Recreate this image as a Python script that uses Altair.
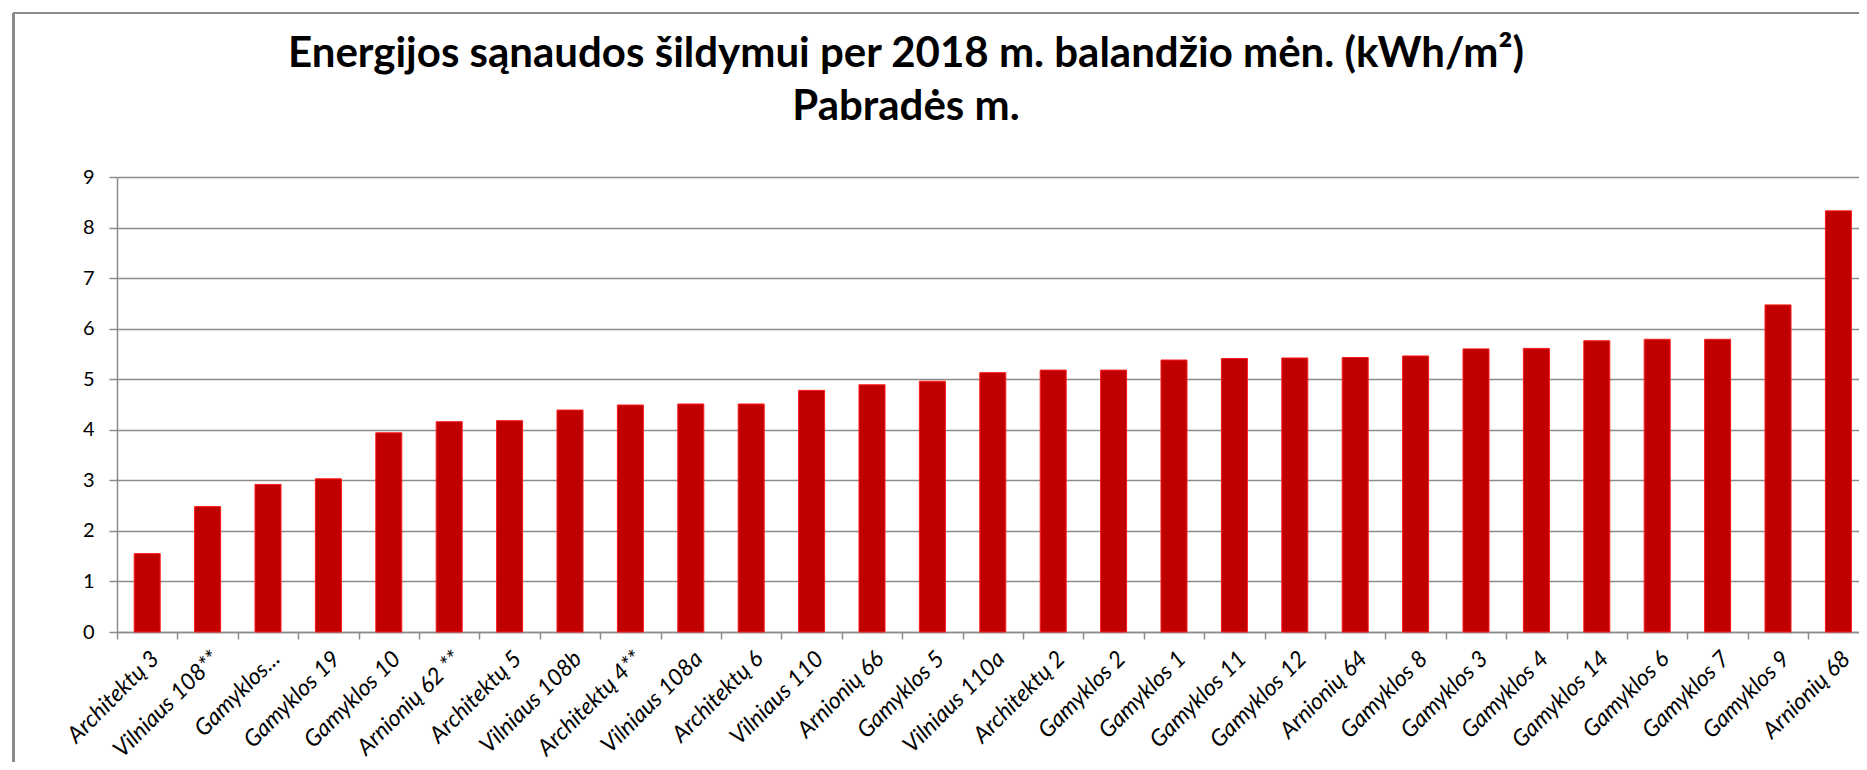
import altair as alt
import pandas as pd

# Category labels (x axis), in display order
addresses = [
    "Architektų 3", "Vilniaus 108**", "Gamyklos...", "Gamyklos 19", "Gamyklos 10",
    "Arnionių 62 **", "Architektų 5", "Vilniaus 108b", "Architektų 4**", "Vilniaus 108a",
    "Architektų 6", "Vilniaus 110", "Arnionių 66", "Gamyklos 5", "Vilniaus 110a",
    "Architektų 2", "Gamyklos 2", "Gamyklos 1", "Gamyklos 11", "Gamyklos 12",
    "Arnionių 64", "Gamyklos 8", "Gamyklos 3", "Gamyklos 4", "Gamyklos 14",
    "Gamyklos 6", "Gamyklos 7", "Gamyklos 9", "Arnionių 68",
]

# Energy use for heating, kWh/m2
energy = [
    1.55, 2.48, 2.92, 3.03, 3.94,
    4.16, 4.18, 4.39, 4.49, 4.51,
    4.51, 4.78, 4.89, 4.96, 5.13,
    5.18, 5.18, 5.38, 5.41, 5.42,
    5.43, 5.46, 5.60, 5.61, 5.76,
    5.79, 5.79, 6.47, 8.33,
]

y_ticks = [0, 1, 2, 3, 4, 5, 6, 7, 8, 9]

df = pd.DataFrame({"adresas": addresses, "energija": energy})

GRAY = "#8c8c8c"
PLOT_W = 1742
PLOT_H = 455

bars = alt.Chart(df).mark_bar(
    size=26, color="#C00000", stroke="#FF1a1a", strokeWidth=1
).encode(
    x=alt.X(
        "adresas:N",
        sort=addresses,
        scale=alt.Scale(range=[0, 1751.6], paddingInner=0, paddingOuter=0),
        axis=alt.Axis(
            title=None,
            labelAngle=-45,
            labelAlign="right",
            labelBaseline="top",
            labelFont="Lato",
            labelFontStyle="italic",
            labelFontSize=23,
            labelColor="#000000",
            labelPadding=8,
            labelLimit=300,
            labelOverlap=False,
            tickBand="extent",
            tickSize=7,
            tickColor=GRAY,
            tickWidth=1.5,
            domainColor=GRAY,
            domainWidth=1.5,
            grid=False,
        ),
    ),
    y=alt.Y(
        "energija:Q",
        scale=alt.Scale(domain=[0, 9], nice=False, zero=True),
        axis=alt.Axis(
            title=None,
            values=y_ticks,
            labelFont="Lato",
            labelFontSize=20,
            labelColor="#000000",
            labelPadding=15,
            tickSize=8,
            tickColor=GRAY,
            tickWidth=1.5,
            domainColor=GRAY,
            domainWidth=1.5,
            grid=True,
            gridColor=GRAY,
            gridWidth=1.5,
        ),
    ),
)

# chart-area frame (top and left edges visible in the reference)
frame_top = alt.Chart(df).mark_rule(color=GRAY, strokeWidth=2).encode(
    x=alt.value(-103.3), x2=alt.value(1760), y=alt.value(-164)
)
frame_left = alt.Chart(df).mark_rule(color=GRAY, strokeWidth=2).encode(
    x=alt.value(-103.3), y=alt.value(-164), y2=alt.value(600)
)

chart = alt.layer(bars, frame_top, frame_left).properties(
    width=PLOT_W,
    height=PLOT_H,
    padding={"left": 109, "top": 169, "right": 0, "bottom": 130},
    autosize=alt.AutoSizeParams(type="none"),
    title=alt.TitleParams(
        text=["Energijos sąnaudos šildymui per 2018 m. balandžio mėn. (kWh/m²)", "Pabradės m."],
        font="Lato",
        fontSize=42,
        fontWeight="bold",
        color="#000000",
        anchor="middle",
        frame="group",
        lineHeight=53,
        offset=-117,
        dx=-82,
    ),
).configure_view(stroke=None).configure(background="white")

chart.save("out.html", embed_options={"renderer": "svg", "actions": False})
